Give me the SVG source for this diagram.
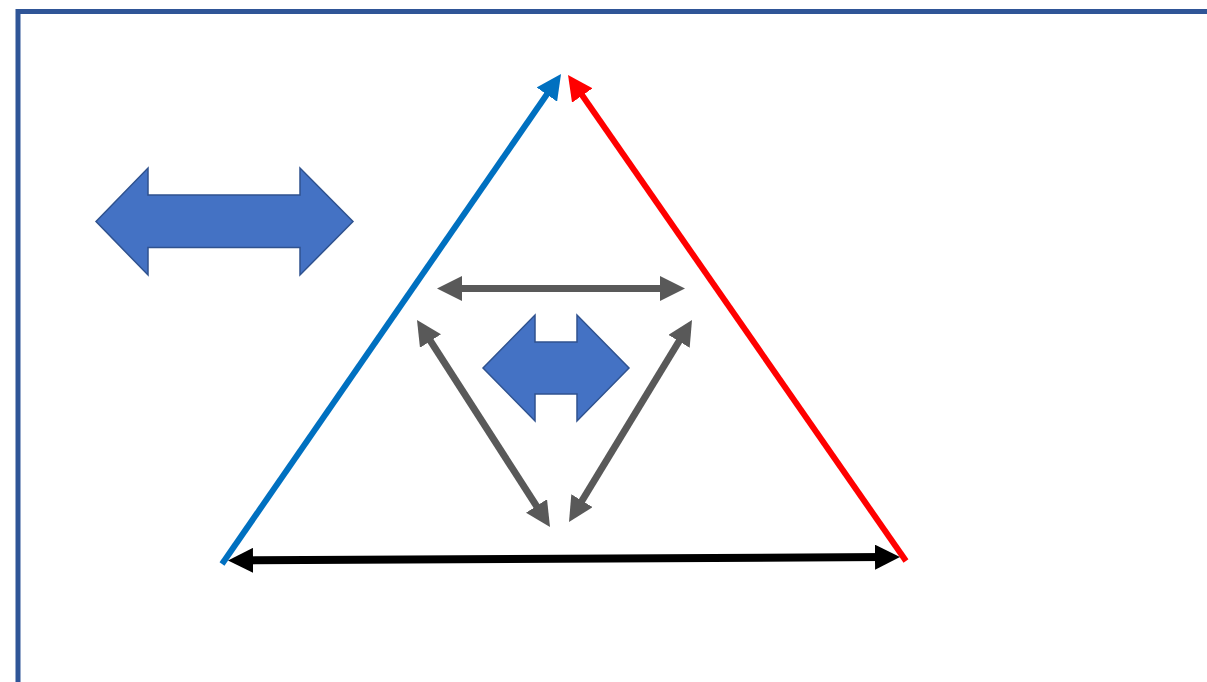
<svg xmlns="http://www.w3.org/2000/svg" width="1207" height="682" viewBox="0 0 1207 682">
<style>
.frame{fill:none;stroke:#2F5597;stroke-width:5}
.blk{fill:#4472C4;stroke:#2F528F;stroke-width:1.5;stroke-linejoin:miter}
.ln{fill:none;stroke-linecap:butt}
</style>
<defs>
<marker id="hBlue" viewBox="0 0 25 25" refX="10" refY="12.5" markerWidth="25" markerHeight="25" markerUnits="userSpaceOnUse" orient="auto-start-reverse"><path d="M0,0 L25,12.5 L0,25 Z" fill="#0070C0"/></marker>
<marker id="hRed" viewBox="0 0 25 25" refX="10" refY="12.5" markerWidth="25" markerHeight="25" markerUnits="userSpaceOnUse" orient="auto-start-reverse"><path d="M0,0 L25,12.5 L0,25 Z" fill="#FF0000"/></marker>
<marker id="hBlack" viewBox="0 0 25 25" refX="10" refY="12.5" markerWidth="25" markerHeight="25" markerUnits="userSpaceOnUse" orient="auto-start-reverse"><path d="M0,0 L25,12.5 L0,25 Z" fill="#000000"/></marker>
<marker id="hGray" viewBox="0 0 25 25" refX="10" refY="12.5" markerWidth="25" markerHeight="25" markerUnits="userSpaceOnUse" orient="auto-start-reverse"><path d="M0,0 L25,12.5 L0,25 Z" fill="#595959"/></marker>
</defs>
<rect class="frame" x="18" y="11.5" width="1250" height="720"/>
<g id="big-double-arrow"><path class="blk" d="M96,221.5 L148,168 L148,195 L300,195 L300,168 L353,221.5 L300,275 L300,247.5 L148,247.5 L148,275 Z"/></g>
<g id="small-double-arrow"><path class="blk" d="M483,368 L535,315 L535,342 L577,342 L577,315 L629,368 L577,421 L577,394 L535,394 L535,421 Z"/></g>
<g id="connectors">
<line class="ln" x1="222" y1="564" x2="552.5" y2="86.3" stroke="#0070C0" stroke-width="6" marker-end="url(#hBlue)"/>
<line class="ln" x1="906" y1="561" x2="576.6" y2="87.3" stroke="#FF0000" stroke-width="6" marker-end="url(#hRed)"/>
<line class="ln" x1="243" y1="560.4" x2="885" y2="557.1" stroke="#000000" stroke-width="8" marker-start="url(#hBlack)" marker-end="url(#hBlack)"/>
<line class="ln" x1="452" y1="288.5" x2="670" y2="288.5" stroke="#595959" stroke-width="7" marker-start="url(#hGray)" marker-end="url(#hGray)"/>
<line class="ln" x1="425.1" y1="332.6" x2="541.9" y2="514.4" stroke="#595959" stroke-width="7" marker-start="url(#hGray)" marker-end="url(#hGray)"/>
<line class="ln" x1="684.2" y1="332.8" x2="576.8" y2="509.2" stroke="#595959" stroke-width="7" marker-start="url(#hGray)" marker-end="url(#hGray)"/>
</g>
</svg>
